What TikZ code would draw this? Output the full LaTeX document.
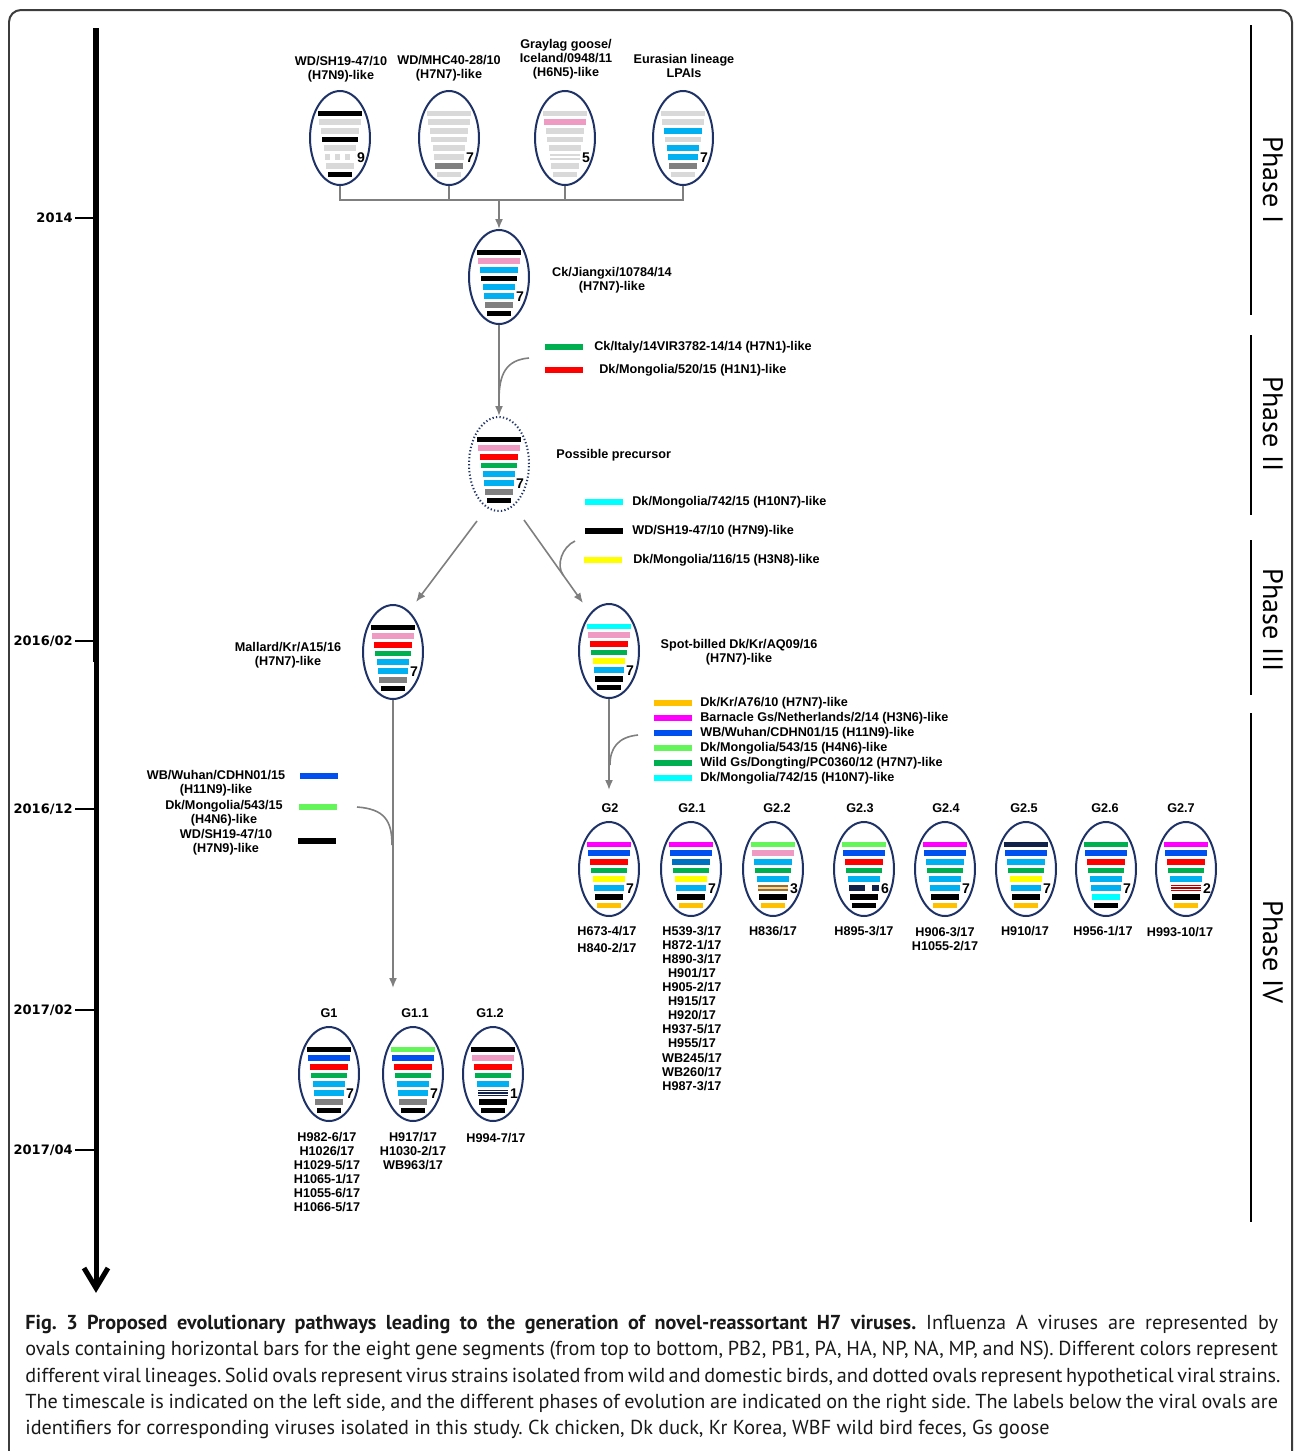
\documentclass[tikz,border=0pt]{standalone}
\usepackage{fontspec}
\setmainfont{Liberation Sans}
\newfontfamily\dejavu{DejaVu Sans}
\newfontfamily\ptsans{PT Sans}
\usepackage{tikz}
\usetikzlibrary{positioning}
\usetikzlibrary{calc,shapes.geometric}
\usetikzlibrary{arrows.meta}

\definecolor{ovalblue}{HTML}{1F3267}
\definecolor{linkgray}{HTML}{7F7F7F}
\definecolor{framegray}{HTML}{3C3C3C}
\definecolor{lgray}{HTML}{D9D9D9}
\definecolor{dgray}{HTML}{808080}
\definecolor{cpink}{HTML}{EE9AC3}
\definecolor{csky}{HTML}{00B0F0}
\definecolor{cred}{HTML}{FF0000}
\definecolor{cgreen}{HTML}{00B050}
\definecolor{cyellow}{HTML}{FFFF00}
\definecolor{ccyan}{HTML}{00FFFF}
\definecolor{cgold}{HTML}{FFC000}
\definecolor{cmag}{HTML}{FF00FF}
\definecolor{cblue}{HTML}{0050EF}
\definecolor{clime}{HTML}{64F55A}
\definecolor{cmid}{HTML}{0070C0}
\definecolor{cnavy}{HTML}{10214A}
\definecolor{cbrown}{HTML}{9C6A20}
\definecolor{cbeige}{HTML}{EAD7A8}
\definecolor{cdred}{HTML}{C00000}
\tikzset{>={Latex[length=0.2cm,width=0.16cm]}}

\newcommand\labfont{\fontsize{7.2pt}{8pt}\selectfont\bfseries}
\newcommand\numfont{\fontsize{8pt}{8pt}\selectfont\bfseries}
\newcommand\yrfont{\dejavu\fontsize{7.4pt}{8pt}\selectfont\bfseries}
\newcommand\phfont{\ptsans\fontsize{16pt}{16pt}\selectfont}
\newcommand\capfont{\ptsans\fontsize{11.5pt}{14.9pt}\selectfont\frenchspacing}

% eight gene bars (PB2 ... NS) inside a virus oval, plus its count
\newcommand\genebars[3]{%
  \foreach \st [count=\i from 0] in {#2}{%
    \pgfmathsetmacro\hw{22-1.4*\i}%
    \pgfmathsetmacro\yy{-24.5+8.7*\i}%
    \draw[segbar,\st] ($(#1)+(-\hw,\yy)$) -- ($(#1)+(\hw,\yy)$);
  }%
  \node[numlab] (#1-n) at ($(#1)+(21,19.5)$) {#3};}

\begin{document}
\begin{tikzpicture}[x=0.02cm, y=-0.02cm,
  virus/.style={ellipse, draw=ovalblue, line width=0.04cm, minimum width=1.2cm, minimum height=1.88cm, inner sep=0pt},
  guessvirus/.style={virus, dash pattern=on 0.025cm off 0.045cm},
  linkline/.style={draw=linkgray, line width=0.032cm},
  segbar/.style={line width=0.114cm},
  legbar/.style={line width=0.11cm},
  tlabel/.style={font=\labfont, inner sep=0pt, align=center},
  numlab/.style={font=\numfont, inner sep=0pt},
  yearlab/.style={font=\yrfont, inner sep=0pt, anchor=east},
  phaselab/.style={font=\phfont, rotate=-90, inner sep=0pt},
  dotgray/.style={draw=lgray, dash pattern=on 0.1cm off 0.1cm},
  dblgray/.style={draw=lgray, line width=0.035cm, double=white, double distance=0.045cm},
  dblbrown/.style={draw=cbrown, line width=0.035cm, double=cbeige, double distance=0.045cm},
  trired/.style={preaction={draw=cdred, line width=0.114cm}, draw=white, line width=0.018cm, double=cdred, double distance=0.026cm},
  trinavy/.style={preaction={draw=cnavy, line width=0.114cm}, draw=white, line width=0.018cm, double=cnavy, double distance=0.026cm},
  splitnavy/.style={draw=cnavy, dash pattern=on 0.31cm off 0.15cm on 0.18cm off 0.5cm}]

\useasboundingbox (0,0) rectangle (1295,1451);

% frame
\draw[framegray, line width=0.04cm, rounded corners=0.24cm] (9,1451) -- (9,10) -- (1292,10) -- (1292,1451);

% Timescale
\draw[line width=0.13cm] (96,28) -- (96,662);
\draw[line width=0.1cm] (96,660) -- (96,1286);
\draw[line width=0.1cm] (84,1268) -- (96,1288) -- (108,1268);
\foreach \yy/\yr in {218/{2014}, 641/{2016/02}, 809/{2016/12}, 1010/{2017/02}, 1150/{2017/04}}{
  \draw[line width=0.055cm] (75,\yy) -- (96,\yy);
  \node[yearlab] (yr\yy) at (73,\yy) {\yr};
}

% Phases
\draw[line width=0.025cm] (1251,25) -- (1251,315);
\draw[line width=0.025cm] (1251,335) -- (1251,515);
\draw[line width=0.025cm] (1251,540) -- (1251,695);
\draw[line width=0.025cm] (1251,713) -- (1251,1222);
\node[phaselab] (ph1) at (1273,180) {Phase I};
\node[phaselab] (ph2) at (1273,424) {Phase II};
\node[phaselab] (ph3) at (1273,620) {Phase III};
\node[phaselab] (ph4) at (1273,952) {Phase IV};

% Phase I: donors
\node[virus] (sh) at (340,138) {};
\node[virus] (mhc) at (449,138) {};
\node[virus] (gg) at (565,138) {};
\node[virus] (eur) at (683,138) {};
\genebars{sh}{black,lgray,lgray,black,lgray,dotgray,lgray,black}{9}
\genebars{mhc}{lgray,lgray,lgray,lgray,lgray,lgray,dgray,lgray}{7}
\genebars{gg}{lgray,cpink,lgray,lgray,lgray,dblgray,lgray,lgray}{5}
\genebars{eur}{lgray,lgray,csky,lgray,csky,csky,dgray,lgray}{7}
\node[tlabel] (sh-l) at (341,69) {WD/SH19-47/10\\(H7N9)-like};
\node[tlabel] (mhc-l) at (449,68) {WD/MHC40-28/10\\(H7N7)-like};
\node[tlabel] (gg-l) at (566,59) {Graylag goose/\\Iceland/0948/11\\(H6N5)-like};
\node[tlabel] (eur-l) at (684,66) {Eurasian lineage\\LPAIs};

\node[virus] (jx) at (499,277) {};
\genebars{jx}{black,cpink,csky,black,csky,csky,dgray,black}{7}
\node[tlabel] (jx-l) at (612,280) {Ck/Jiangxi/10784/14\\(H7N7)-like};

\coordinate (join) at (499,200);
\draw[linkline] (sh.south) |- (join);
\draw[linkline] (mhc.south) |- (join);
\draw[linkline] (gg.south) |- (join);
\draw[linkline] (eur.south) |- (join);
\draw[linkline,->] (join) -- (jx.north);

% Phase II
\node[guessvirus] (pre) at (499,464) {};
\genebars{pre}{black,cpink,cred,cgreen,csky,csky,dgray,black}{7}
\node[tlabel,anchor=west] (pre-l) at (556,455) {Possible precursor};
\draw[linkline,->] (jx.south) -- (pre.north);
\coordinate (italyin) at (529,358);
\coordinate (italyend) at (499,400);
\draw[linkline] (italyin) .. controls (506,360) and (499,374) .. (italyend);
\draw[legbar,cgreen] (545,347) -- (583,347);
\node[tlabel,anchor=west] (italy-l) at (594,347) {Ck/Italy/14VIR3782-14/14 (H7N1)-like};
\draw[legbar,cred] (545,370) -- (583,370);
\node[tlabel,anchor=west] (mg520-l) at (599,370) {Dk/Mongolia/520/15 (H1N1)-like};

% Phase III
\node[virus] (mal) at (393,652) {};
\genebars{mal}{black,cpink,cred,cgreen,csky,csky,dgray,black}{7}
\node[tlabel] (mal-l) at (288,655) {Mallard/Kr/A15/16\\(H7N7)-like};
\node[virus] (spot) at (609,651) {};
\genebars{spot}{ccyan,cpink,cred,cgreen,cyellow,csky,black,black}{7}
\node[tlabel] (spot-l) at (739,652) {Spot-billed Dk/Kr/AQ09/16\\(H7N7)-like};

\draw[linkline,->] ($(pre.south)+(-22,9)$) -- ($(mal.north)+(23,-2)$);
\draw[linkline,->] ($(pre.south)+(25,8)$) -- ($(spot.north)+(-26,0)$);
\coordinate (spotin) at (575,541);
\coordinate (spotend) at (563,575);
\draw[linkline] (spotin) .. controls (562,547) and (556,565) .. (spotend);
\draw[legbar,ccyan] (585,502) -- (623,502);
\node[tlabel,anchor=west] (mg742-l) at (632,502) {Dk/Mongolia/742/15 (H10N7)-like};
\draw[legbar,black] (585,531) -- (623,531);
\node[tlabel,anchor=west] (sh2-l) at (632,531) {WD/SH19-47/10 (H7N9)-like};
\draw[legbar,cyellow] (584,560) -- (622,560);
\node[tlabel,anchor=west] (mg116-l) at (633,560) {Dk/Mongolia/116/15 (H3N8)-like};

% Phase IV: G2 branch
\coordinate (g2in) at (609,790);
\draw[linkline,->] (spot.south) -- (g2in);
\coordinate (g2join) at (638,735);
\coordinate (g2end) at (610,765);
\draw[linkline] (g2join) .. controls (618,737) and (610,748) .. (g2end);
\draw[legbar,cgold] (654,703) -- (692,703);
\node[tlabel,anchor=west] (a76-l) at (700,703) {Dk/Kr/A76/10 (H7N7)-like};
\draw[legbar,cmag] (654,718) -- (692,718);
\node[tlabel,anchor=west] (bgs-l) at (700,718) {Barnacle Gs/Netherlands/2/14 (H3N6)-like};
\draw[legbar,cblue] (654,733) -- (692,733);
\node[tlabel,anchor=west] (wuh-l) at (700,733) {WB/Wuhan/CDHN01/15 (H11N9)-like};
\draw[legbar,clime] (654,748) -- (692,748);
\node[tlabel,anchor=west] (mg543-l) at (700,748) {Dk/Mongolia/543/15 (H4N6)-like};
\draw[legbar,cgreen] (654,763) -- (692,763);
\node[tlabel,anchor=west] (dt-l) at (700,763) {Wild Gs/Dongting/PC0360/12 (H7N7)-like};
\draw[legbar,ccyan] (654,778) -- (692,778);
\node[tlabel,anchor=west] (mg742b-l) at (700,778) {Dk/Mongolia/742/15 (H10N7)-like};

\node[virus] (g2) at (609,869) {};
\node[virus] (g21) at (691,869) {};
\node[virus] (g22) at (773,869) {};
\node[virus] (g23) at (864,869) {};
\node[virus] (g24) at (945,869) {};
\node[virus] (g25) at (1026,869) {};
\node[virus] (g26) at (1106,869) {};
\node[virus] (g27) at (1186,869) {};
\genebars{g2}{cmag,cblue,cred,cgreen,cyellow,csky,black,cgold}{7}
\genebars{g21}{cmag,cblue,cmid,cgreen,cyellow,csky,black,cgold}{7}
\genebars{g22}{clime,cpink,csky,cgreen,csky,dblbrown,black,cgold}{3}
\genebars{g23}{clime,cblue,cred,cgreen,csky,splitnavy,black,black}{6}
\genebars{g24}{cmag,cblue,csky,cgreen,csky,csky,black,cgold}{7}
\genebars{g25}{cnavy,cblue,csky,cgreen,cyellow,csky,black,cgold}{7}
\genebars{g26}{cgreen,cblue,cred,cgreen,csky,csky,ccyan,black}{7}
\genebars{g27}{cmag,cblue,cred,cgreen,csky,trired,black,cgold}{2}
\node[tlabel] (g2-t) at (610,808) {G2};
\node[tlabel] (g21-t) at (692,808) {G2.1};
\node[tlabel] (g22-t) at (777,808) {G2.2};
\node[tlabel] (g23-t) at (860,808) {G2.3};
\node[tlabel] (g24-t) at (946,808) {G2.4};
\node[tlabel] (g25-t) at (1024,808) {G2.5};
\node[tlabel] (g26-t) at (1105,808) {G2.6};
\node[tlabel] (g27-t) at (1181,808) {G2.7};
\node[tlabel,anchor=north] (g2-ids) at (607,926) {H673-4/17\\[1.7pt]H840-2/17};
\node[tlabel,anchor=north] (g21-ids) at (692,926) {H539-3/17\\H872-1/17\\H890-3/17\\H901/17\\H905-2/17\\H915/17\\H920/17\\H937-5/17\\H955/17\\WB245/17\\WB260/17\\H987-3/17};
\node[tlabel,anchor=north] (g22-ids) at (773,926) {H836/17};
\node[tlabel,anchor=north] (g23-ids) at (864,926) {H895-3/17};
\node[tlabel,anchor=north] (g24-ids) at (945,927) {H906-3/17\\H1055-2/17};
\node[tlabel,anchor=north] (g25-ids) at (1025,926) {H910/17};
\node[tlabel,anchor=north] (g26-ids) at (1103,926) {H956-1/17};
\node[tlabel,anchor=north] (g27-ids) at (1180,927) {H993-10/17};

% Phase IV: G1 branch
\coordinate (g1in) at (393,988);
\draw[linkline,->] (mal.south) -- (g1in);
\coordinate (g1join) at (357,807);
\coordinate (g1end) at (392,845);
\draw[linkline] (g1join) .. controls (384,809) and (392,820) .. (g1end);
\draw[legbar,cblue] (300,776) -- (338,776);
\node[tlabel] (wuh2-l) at (216,783) {WB/Wuhan/CDHN01/15\\(H11N9)-like};
\draw[legbar,clime] (299,807) -- (337,807);
\node[tlabel] (mg543b-l) at (224,813) {Dk/Mongolia/543/15\\(H4N6)-like};
\draw[legbar,black] (298,841) -- (336,841);
\node[tlabel] (sh3-l) at (226,842) {WD/SH19-47/10\\(H7N9)-like};

\node[virus] (g1) at (329,1074) {};
\node[virus] (g11) at (413,1074) {};
\node[virus] (g12) at (493,1074) {};
\genebars{g1}{black,cblue,cred,cgreen,csky,csky,dgray,black}{7}
\genebars{g11}{clime,cblue,cred,cgreen,csky,csky,dgray,black}{7}
\genebars{g12}{black,cpink,cred,cgreen,csky,trinavy,black,black}{1}
\node[tlabel] (g1-t) at (329,1013) {G1};
\node[tlabel] (g11-t) at (415,1013) {G1.1};
\node[tlabel] (g12-t) at (490,1013) {G1.2};
\node[tlabel,anchor=north] (g1-ids) at (327,1132) {H982-6/17\\H1026/17\\H1029-5/17\\H1065-1/17\\H1055-6/17\\H1066-5/17};
\node[tlabel,anchor=north] (g11-ids) at (413,1132) {H917/17\\H1030-2/17\\WB963/17};
\node[tlabel,anchor=north] (g12-ids) at (496,1133) {H994-7/17};

% Caption
\node[anchor=north west, inner sep=0pt, align=left, font=\capfont, text=black!90] (caption) at (25,1315) {%
\makebox[25.06cm][s]{\textbf{Fig. 3 Proposed evolutionary pathways leading to the generation of novel-reassortant H7 viruses.} Influenza A viruses are represented by}\\
\makebox[25.06cm][s]{ovals containing horizontal bars for the eight gene segments (from top to bottom, PB2, PB1, PA, HA, NP, NA, MP, and NS). Different colors represent}\\
\makebox[25.06cm][s]{different viral lineages. Solid ovals represent virus strains isolated from wild and domestic birds, and dotted ovals represent hypothetical viral strains.}\\
\makebox[25.06cm][s]{The timescale is indicated on the left side, and the different phases of evolution are indicated on the right side. The labels below the viral ovals are}\\
identifiers for corresponding viruses isolated in this study. Ck chicken, Dk duck, Kr Korea, WBF wild bird feces, Gs goose};
\end{tikzpicture}
\end{document}
